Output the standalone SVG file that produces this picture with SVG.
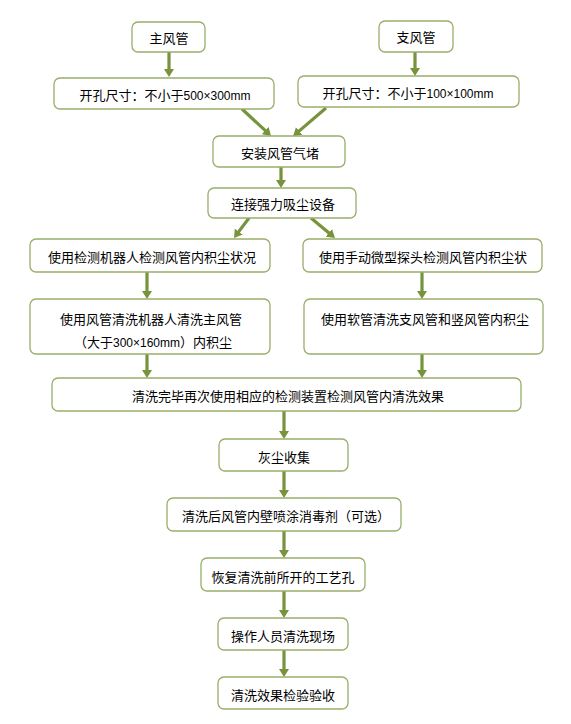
<svg xmlns="http://www.w3.org/2000/svg" width="571" height="724" viewBox="0 0 571 724">
<style>
.box{fill:#fff;stroke:#98AE6B;stroke-width:1.3}
.t{font-family:"Noto Sans CJK SC","Liberation Sans",sans-serif;font-size:13px;fill:#000;text-anchor:middle}
.n{font-family:"Liberation Sans",sans-serif;font-size:12px}
.c line{stroke:#77933C;stroke-width:3.2}
</style>
<defs>
<marker id="ah" viewBox="0 0 8 10" refX="1" refY="5" markerWidth="8" markerHeight="10" orient="auto" markerUnits="userSpaceOnUse">
<path d="M0,0 L8,5 L0,10 z" fill="#77933C"/>
</marker>
</defs>
<rect width="571" height="724" fill="#fff"/>
<g class="c" id="connectors">
<line x1="169" y1="52" x2="169" y2="70" marker-end="url(#ah)"/>
<line x1="415" y1="52" x2="415" y2="69" marker-end="url(#ah)"/>
<line x1="242" y1="109" x2="265.9" y2="131.2" marker-end="url(#ah)"/>
<line x1="326" y1="108" x2="298.4" y2="131.6" marker-end="url(#ah)"/>
<line x1="281" y1="167" x2="281" y2="181" marker-end="url(#ah)"/>
<line x1="249" y1="218" x2="238.2" y2="232.4" marker-end="url(#ah)"/>
<line x1="311" y1="218" x2="329.6" y2="233.5" marker-end="url(#ah)"/>
<line x1="147" y1="272" x2="147" y2="292" marker-end="url(#ah)"/>
<line x1="422" y1="272" x2="422" y2="292" marker-end="url(#ah)"/>
<line x1="147" y1="354" x2="147" y2="371" marker-end="url(#ah)"/>
<line x1="422" y1="354" x2="422" y2="371" marker-end="url(#ah)"/>
<line x1="284" y1="411" x2="284" y2="432" marker-end="url(#ah)"/>
<line x1="284" y1="471" x2="284" y2="491" marker-end="url(#ah)"/>
<line x1="284" y1="531" x2="284" y2="551" marker-end="url(#ah)"/>
<line x1="284" y1="591" x2="284" y2="611" marker-end="url(#ah)"/>
<line x1="284" y1="650" x2="284" y2="670" marker-end="url(#ah)"/>
</g>
<g id="n1"><rect class="box" x="132" y="22" width="73" height="30" rx="6"/><text class="t" x="169" y="43">主风管</text></g>
<g id="n2"><rect class="box" x="379" y="21" width="74" height="31" rx="6"/><text class="t" x="416" y="42">支风管</text></g>
<g id="n3"><rect class="box" x="54" y="78" width="220" height="31" rx="6"/><text class="t" x="165" y="100">开孔尺寸：不小于<tspan class="n">500×300mm</tspan></text></g>
<g id="n4"><rect class="box" x="298" y="76" width="221" height="31" rx="6"/><text class="t" x="408" y="98">开孔尺寸：不小于<tspan class="n">100×100mm</tspan></text></g>
<g id="n5"><rect class="box" x="213" y="136" width="132" height="31" rx="6"/><text class="t" x="280" y="158">安装风管气堵</text></g>
<g id="n6"><rect class="box" x="208" y="188" width="148" height="30" rx="6"/><text class="t" x="283" y="209">连接强力吸尘设备</text></g>
<g id="n7"><rect class="box" x="30" y="239" width="240" height="33" rx="6"/><text class="t" x="152" y="262">使用检测机器人检测风管内积尘状况</text></g>
<g id="n8"><rect class="box" x="303" y="239" width="239" height="33" rx="6"/><text class="t" x="423" y="262">使用手动微型探头检测风管内积尘状</text></g>
<g id="n9"><rect class="box" x="30" y="299" width="240" height="55" rx="6"/><text class="t" x="151" y="324">使用风管清洗机器人清洗主风管</text><text class="t" x="153" y="347">（大于<tspan class="n">300×160mm</tspan>）内积尘</text></g>
<g id="n10"><rect class="box" x="304" y="299" width="239" height="55" rx="6"/><text class="t" x="425" y="324">使用软管清洗支风管和竖风管内积尘</text></g>
<g id="n11"><rect class="box" x="52" y="378" width="469" height="33" rx="6"/><text class="t" x="288" y="401">清洗完毕再次使用相应的检测装置检测风管内清洗效果</text></g>
<g id="n12"><rect class="box" x="219" y="439" width="129" height="32" rx="6"/><text class="t" x="284" y="462">灰尘收集</text></g>
<g id="n13"><rect class="box" x="167" y="498" width="234" height="33" rx="6"/><text class="t" x="286" y="521">清洗后风管内壁喷涂消毒剂（可选）</text></g>
<g id="n14"><rect class="box" x="201" y="558" width="164" height="33" rx="6"/><text class="t" x="283" y="582">恢复清洗前所开的工艺孔</text></g>
<g id="n15"><rect class="box" x="218" y="618" width="130" height="32" rx="6"/><text class="t" x="283" y="641">操作人员清洗现场</text></g>
<g id="n16"><rect class="box" x="218" y="677" width="130" height="32" rx="6"/><text class="t" x="283" y="700">清洗效果检验验收</text></g>
</svg>
